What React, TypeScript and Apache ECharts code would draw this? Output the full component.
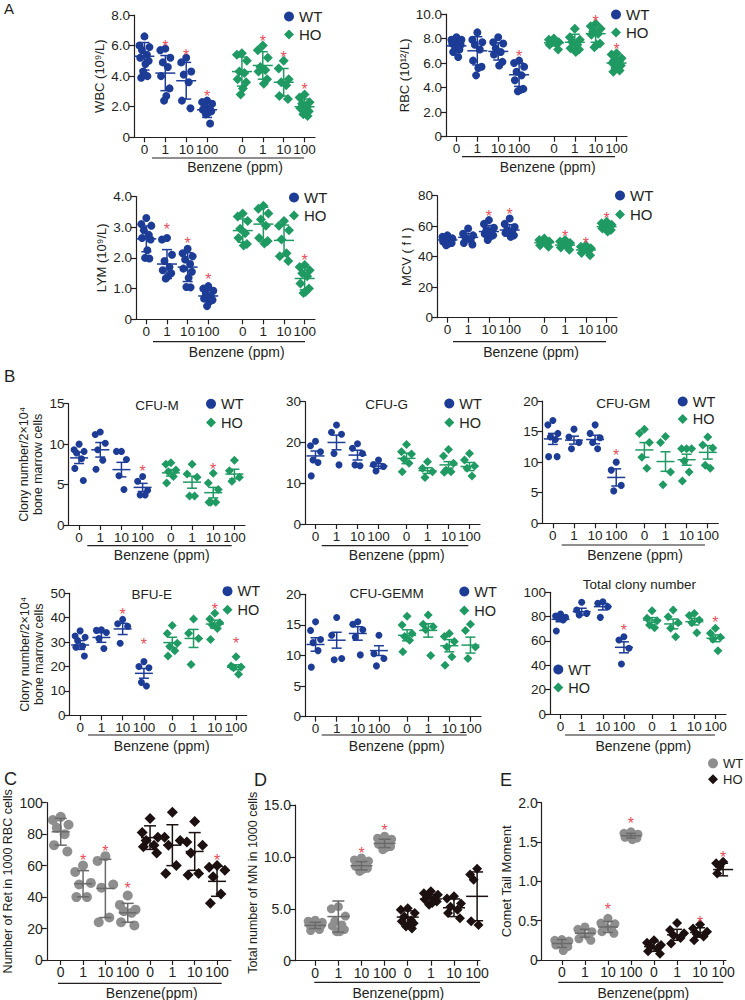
import React, { useEffect, useRef } from 'react';
import * as echarts from 'echarts';

const DOSES = ['0', '1', '10', '100'];
const INK = '#231f20';
const FONT = "'Liberation Sans', Arial, sans-serif";
const BLUE = '#1d3c96';
const GREEN = '#1f9a62';
const GRAY = '#8e8e8e';
const DARK = '#1c1010';
const STAR = '#e8505a';

// ---------- A: WBC ----------
const WBC_WT = [[6.6, 6.0, 5.9, 5.7, 5.4, 5.2, 5.0, 4.8, 4.3, 4.0, 3.9], [5.8, 5.7, 5.2, 4.9, 4.6, 4.0, 3.2, 2.7, 2.4], [5.2, 4.9, 4.3, 4.1, 3.6, 2.4, 1.9], [2.4, 2.3, 2.2, 2.0, 1.9, 1.8, 1.7, 1.6, 1.5, 0.9]];
const WBC_WT_MEAN = [5.3, 4.2, 3.7, 1.8];
const WBC_WT_ERR = [0.9, 1.15, 1.2, 0.5];
const WBC_HO = [[5.5, 5.4, 5.0, 4.3, 4.2, 3.8, 3.6, 3.2, 2.8], [6.0, 5.7, 5.2, 4.6, 4.4, 4.3, 3.8, 3.5], [5.0, 4.5, 3.8, 3.6, 3.4, 2.7, 2.5], [2.8, 2.6, 2.3, 2.2, 2.0, 1.9, 1.7, 1.6, 1.5, 1.4]];
const WBC_HO_MEAN = [4.3, 4.7, 3.6, 2.0];
const WBC_HO_ERR = [0.95, 0.9, 0.9, 0.5];
const WBC_STARS = [null, 6.2, 5.6, 2.9, null, 6.5, 5.5, 3.4];

// ---------- A: RBC ----------
const RBC_WT = [[8.1, 7.9, 7.9, 7.7, 7.7, 7.6, 7.5, 7.3, 7.2, 7.1, 6.9, 6.5], [8.5, 7.9, 7.7, 7.5, 7.1, 6.2, 5.7, 5.6, 5.0], [8.1, 7.7, 7.6, 7.2, 6.9, 6.7, 6.1, 5.8], [6.2, 6.0, 5.7, 5.3, 5.0, 4.6, 3.9, 3.8, 3.7]];
const RBC_WT_MEAN = [7.4, 7.0, 6.95, 5.05];
const RBC_WT_ERR = [0.45, 1.15, 0.7, 0.95];
const RBC_HO = [[8.0, 7.9, 7.7, 7.7, 7.6, 7.5, 7.1], [8.8, 8.1, 7.9, 7.7, 7.5, 7.2, 7.1, 6.9], [9.2, 9.0, 8.8, 8.6, 8.4, 8.3, 7.6, 7.5, 7.3], [6.8, 6.7, 6.4, 6.2, 6.1, 6.0, 5.8, 5.7, 5.6, 5.4, 5.3]];
const RBC_HO_MEAN = [7.65, 7.7, 8.4, 6.0];
const RBC_HO_ERR = [0.25, 0.65, 0.7, 0.45];
const RBC_STARS = [null, null, null, 6.85, null, null, 9.7, 7.4];

// ---------- A: LYM ----------
const LYM_WT = [[3.3, 3.1, 3.05, 2.9, 2.75, 2.65, 2.6, 2.25, 2.0, 1.98], [2.65, 2.6, 2.1, 1.9, 1.7, 1.6, 1.5, 1.4, 1.33], [2.3, 2.15, 2.05, 1.95, 1.8, 1.65, 1.55, 1.35, 1.05, 1.04], [1.08, 1.0, 0.93, 0.85, 0.75, 0.68, 0.63, 0.57, 0.43]];
const LYM_WT_MEAN = [2.62, 1.8, 1.7, 0.76];
const LYM_WT_ERR = [0.42, 0.47, 0.47, 0.18];
const LYM_HO = [[3.45, 3.35, 3.2, 2.95, 2.8, 2.65, 2.45, 2.4], [3.7, 3.6, 3.45, 3.25, 3.05, 2.65, 2.55, 2.47], [3.2, 3.05, 2.9, 2.6, 2.15, 2.05, 1.9], [1.77, 1.7, 1.6, 1.5, 1.4, 1.17, 1.0, 0.9, 0.86]];
const LYM_HO_MEAN = [2.89, 3.1, 2.57, 1.33];
const LYM_HO_ERR = [0.38, 0.55, 0.5, 0.37];
const LYM_STARS = [null, 3.05, 2.6, 1.42, null, null, null, 2.06];

// ---------- A: MCV ----------
const MCV_WT = [[54, 53, 52, 51.5, 51, 50, 49, 48.5, 47.5], [58.5, 55, 54, 52, 51, 49, 48], [64, 61.5, 59, 57.5, 56.5, 55, 54, 53, 51], [65, 61.5, 59.5, 57.5, 56.5, 55.5, 54, 53]];
const MCV_WT_MEAN = [51, 52.7, 56.5, 57.5];
const MCV_WT_ERR = [2, 2.5, 4, 3.5];
const MCV_HO = [[52, 51, 50, 49, 48.5, 47.5, 46.5], [51, 50, 49, 48, 47, 46, 44.5], [47.5, 46.5, 45.5, 44.5, 43.5, 42.5, 41], [63, 62, 61, 60, 59, 58.5, 57.5, 56.5]];
const MCV_HO_MEAN = [49.2, 47.6, 44.4, 59.7];
const MCV_HO_ERR = [1.5, 2, 2, 2];
const MCV_STARS = [null, null, 69, 70, null, 56, 51.5, 68];

// ---------- B: CFU-M ----------
const CFUM_WT = [[10.0, 9.3, 9.1, 8.9, 8.2, 7.0, 5.5], [11.5, 11.2, 10.1, 9.3, 8.0, 6.9], [9.1, 9.1, 8.1, 6.1, 4.4], [6.0, 5.4, 4.3, 3.7, 3.7]];
const CFUM_WT_MEAN = [8.3, 9.3, 6.85, 4.65];
const CFUM_WT_ERR = [0.7, 0.9, 0.9, 0.5];
const CFUM_HO = [[7.7, 7.5, 6.8, 6.6, 6.0, 5.2], [7.5, 6.3, 5.9, 3.6, 3.6], [6.4, 5.2, 4.4, 2.8, 2.8, 2.8], [8.0, 6.7, 5.9, 5.4]];
const CFUM_HO_MEAN = [6.45, 5.3, 4.0, 6.3];
const CFUM_HO_ERR = [0.4, 0.75, 0.65, 0.6];
const CFUM_STARS = [null, null, null, 7.1, null, null, 7.3, null];

// ---------- B: CFU-G ----------
const CFUG_WT = [[20.3, 19.2, 17.7, 15.7, 15.1, 11.8], [24.3, 22.5, 22.0, 17.3, 14.5], [19.7, 18.6, 17.3, 14.5, 14.3], [15.7, 14.6, 14.1, 13.0]];
const CFUG_WT_MEAN = [16.7, 20.0, 16.9, 14.2];
const CFUG_WT_ERR = [1.2, 1.8, 1.2, 0.6];
const CFUG_HO = [[19.5, 17.7, 17.2, 15.9, 14.9, 12.8], [15.3, 13.7, 12.8, 11.4], [18.3, 16.7, 14.9, 13.2, 12.8, 12.7], [17.3, 15.7, 14.2, 13.7, 11.8]];
const CFUG_HO_MEAN = [16.1, 13.1, 14.5, 14.1];
const CFUG_HO_ERR = [1.3, 0.7, 0.8, 1.0];
const CFUG_STARS = [null, null, null, null, null, null, null, null];

// ---------- B: CFU-GM ----------
const CFUGM_WT = [[16.8, 16.1, 14.7, 14.1, 13.7, 10.9, 10.9], [15.4, 14.1, 13.2, 12.2], [16.1, 14.7, 14.0, 13.2, 12.2], [10.0, 8.7, 6.2, 5.3]];
const CFUGM_WT_MEAN = [13.8, 13.6, 13.7, 7.5];
const CFUGM_WT_ERR = [0.9, 0.65, 0.7, 1.4];
const CFUGM_HO = [[15.4, 14.7, 13.2, 10.8, 9.0], [14.2, 13.2, 8.4, 6.3], [12.2, 12.2, 12.2, 10.2, 8.4, 6.9], [14.1, 12.8, 12.3, 9.5, 9.0]];
const CFUGM_HO_MEAN = [12.0, 10.1, 10.4, 11.6];
const CFUGM_HO_ERR = [1.2, 1.6, 0.9, 1.1];
const CFUGM_STARS = [null, null, null, 11.7, null, null, null, null];

// ---------- B: BFU-E ----------
const BFUE_WT = [[34.6, 32.5, 32.0, 30.6, 28.4, 27.9, 24.3], [35.0, 34.8, 33.9, 31.5, 27.4], [39.3, 37.5, 36.5, 29.5], [22.0, 20.0, 19.5, 13.5, 12.0]];
const BFUE_WT_MEAN = [28.8, 31.9, 35.4, 17.2];
const BFUE_WT_ERR = [1.8, 2.0, 2.3, 2.0];
const BFUE_HO = [[36.8, 33.5, 29.5, 28.2, 26.5, 24.3], [39.5, 33.6, 31.5, 20.8], [41.8, 39.5, 37.9, 37.0, 35.6, 31.1], [24.0, 20.2, 19.8, 19.5, 16.8]];
const BFUE_HO_MEAN = [29.8, 31.5, 37.4, 19.7];
const BFUE_HO_ERR = [2.2, 3.7, 1.6, 1.0];
const BFUE_STARS = [null, null, 42.9, 30.6, null, null, 45.2, 30.9];

// ---------- B: CFU-GEMM ----------
const GEMM_WT = [[15.5, 14.1, 12.6, 12.1, 10.8, 8.1], [16.2, 13.3, 9.5, 9.3], [15.5, 15.1, 14.2, 13.0, 10.1], [13.3, 10.3, 9.5, 8.3]];
const GEMM_WT_MEAN = [11.8, 12.5, 13.6, 10.8];
const GEMM_WT_ERR = [1.1, 1.3, 1.1, 0.8];
const GEMM_HO = [[16.4, 15.0, 13.6, 13.1, 12.5, 10.6], [16.6, 15.1, 14.7, 14.2, 10.0], [13.6, 13.1, 12.3, 11.4, 9.8, 8.4], [15.1, 14.1, 11.4, 9.5]];
const GEMM_HO_MEAN = [13.3, 14.1, 11.6, 11.7];
const GEMM_HO_ERR = [0.9, 1.1, 1.0, 1.3];
const GEMM_STARS = [null, null, null, null, null, null, null, null];

// ---------- B: Total clony number ----------
const TOTAL_WT = [[82.2, 80.5, 79.4, 78.6, 77.2, 68.2], [91.8, 85.5, 82.7, 81.3], [92.3, 90.9, 88.2, 79.4], [63.5, 60.8, 54.0, 41.1]];
const TOTAL_WT_MEAN = [77.8, 84.1, 88.2, 54.8];
const TOTAL_WT_ERR = [2.0, 2.8, 2.7, 4.5];
const TOTAL_HO = [[84.9, 78.6, 76.7, 73.1, 70.9], [85.5, 80.0, 75.0, 70.4, 63.5], [82.5, 81.0, 77.2, 75.0, 66.8], [70.4, 66.3, 63.0, 61.4, 52.0]];
const TOTAL_HO_MEAN = [77.2, 74.0, 75.9, 62.2];
const TOTAL_HO_ERR = [2.0, 4.0, 2.7, 2.8];
const TOTAL_STARS = [null, null, null, 71.8, null, null, null, 78.6];

// ---------- C: Ret ----------
const RET_WT = [[91, 89, 86, 84, 80, 73, 69], [60, 56, 49, 48, 40, 40], [66, 63, 48, 46, 27, 24], [41, 35, 32, 31, 30, 24, 22]];
const RET_WT_MEAN = [81.5, 48.5, 45.5, 30];
const RET_WT_ERR = [8.5, 8.3, 18.5, 6];
const RET_HO = [[90, 81, 78, 76, 73, 72, 68], [94, 78, 76, 73, 60, 55], [88, 75, 73, 68, 55, 54], [60, 59, 57, 53, 42, 36]];
const RET_HO_MEAN = [77.8, 73, 69, 50];
const RET_HO_ERR = [7.5, 13, 12, 9.5];
const RET_STARS = [null, 65.7, 71.6, 48.3, null, null, null, 66.1];

// ---------- D: MN ----------
const MN_WT = [[3.9, 3.8, 3.7, 3.6, 3.5, 3.5, 3.4, 3.3, 3.2, 3.0, 2.9], [5.2, 5.0, 4.3, 3.8, 3.45, 3.35, 3.0, 2.8, 2.8], [9.9, 9.7, 9.6, 9.4, 9.3, 9.1, 8.9, 8.8, 8.6], [12.0, 11.8, 11.7, 11.5, 11.4, 11.2, 11.0, 10.9, 10.7]];
const MN_WT_MEAN = [3.4, 4.25, 9.15, 11.3];
const MN_WT_ERR = [0.3, 1.5, 0.4, 0.4];
const MN_HO = [[5.05, 4.9, 4.6, 4.25, 3.9, 3.8, 3.6, 3.45, 3.3, 3.1], [6.7, 6.5, 6.35, 6.2, 6.0, 5.9, 5.7, 5.55, 5.4], [6.2, 6.0, 5.5, 5.2, 4.9, 4.6, 4.1], [8.85, 8.3, 8.0, 7.8, 7.5, 3.8, 3.45, 3.45]];
const MN_HO_MEAN = [4.2, 5.95, 5.1, 6.2];
const MN_HO_ERR = [0.6, 0.4, 0.85, 2.35];
const MN_STARS = [null, null, 10.7, 12.9, null, null, null, null];

// ---------- E: Comet ----------
const TAIL_WT = [[0.26, 0.25, 0.24, 0.22, 0.2, 0.19, 0.17, 0.12], [0.42, 0.39, 0.36, 0.34, 0.3, 0.27, 0.25], [0.53, 0.47, 0.46, 0.42, 0.4, 0.36, 0.34], [1.63, 1.61, 1.6, 1.59, 1.57, 1.56, 1.55, 1.53]];
const TAIL_WT_MEAN = [0.21, 0.34, 0.42, 1.58];
const TAIL_WT_ERR = [0.05, 0.05, 0.07, 0.03];
const TAIL_HO = [[0.25, 0.22, 0.19, 0.17, 0.15, 0.11, 0.08], [0.47, 0.38, 0.34, 0.31, 0.28, 0.21], [0.45, 0.4, 0.36, 0.33, 0.3, 0.25], [1.25, 1.23, 1.21, 1.19, 1.14, 1.1, 0.98]];
const TAIL_HO_MEAN = [0.17, 0.32, 0.35, 1.15];
const TAIL_HO_ERR = [0.06, 0.07, 0.06, 0.08];
const TAIL_STARS = [null, null, 0.69, 1.79, null, null, 0.53, 1.36];

const JITTER = [0, -1, 1, -0.5, 0.5, -0.85, 0.85, 0.2, -0.25, 0.6, -0.65, 0.35];

type Panel = {
  box: [number, number, number, number];
  yMax: number; yInt: number; yDec: number;
  yName?: string; nameGap?: number; nameSize?: number;
  n: number; slots: number[];
  wt: number[][]; ho: number[][];
  wtMean: number[]; wtErr: number[]; hoMean: number[]; hoErr: number[];
  stars: (number | null)[];
  cWT: string; cHO: string; bWT: string; bHO: string;
  sWT: number; sHO: number; spread: number; mh: number; ch: number;
  tick: number; legendSize: number;
  legend?: [number, number, number];
  title?: [string, number, number];
  line: [number, number, number];
  benz: [string, number, number];
};

const SL_A = [1, 4, 7, 10, 15, 18, 21, 24];
const SL_B = [1, 4, 7, 10, 14, 17, 20, 23];
const SL_C = [2, 6, 10, 14, 18, 22, 26, 30];
const SL_D = [3, 7, 11, 15, 19, 23, 27, 31];

const BTITLE = 'Clony number/2×10⁴\nbone marrow cells';

function buildPanels(): Panel[] {
  const A = { n: 26, slots: SL_A, cWT: BLUE, cHO: GREEN, bWT: BLUE, bHO: GREEN, sWT: 8, sHO: 10, spread: 5, mh: 10, ch: 5, tick: 13.5, legendSize: 15, yDec: 1, nameSize: 13 };
  const B = { n: 25, slots: SL_B, cWT: BLUE, cHO: GREEN, bWT: BLUE, bHO: GREEN, sWT: 7, sHO: 9, spread: 5, mh: 9, ch: 5, tick: 13.5, legendSize: 14.5, yDec: 0, nameSize: 12.5 };
  const G = { cWT: GRAY, cHO: DARK, bWT: '#6a6a6a', bHO: DARK, tick: 14, legendSize: 14 };
  return [
    { ...A, box: [134, 15, 315, 137.3], yMax: 8, yInt: 2, yName: 'WBC (10⁹/L)', nameGap: 25, wt: WBC_WT, ho: WBC_HO, wtMean: WBC_WT_MEAN, wtErr: WBC_WT_ERR, hoMean: WBC_HO_MEAN, hoErr: WBC_HO_ERR, stars: WBC_STARS, legend: [289, 16, 17], line: [152, 304, 158], benz: ['Benzene (ppm)', 235, 167] },
    { ...A, box: [446, 14, 627, 136.7], yMax: 10, yInt: 2, yName: 'RBC (10¹²/L)', nameGap: 29, wt: RBC_WT, ho: RBC_HO, wtMean: RBC_WT_MEAN, wtErr: RBC_WT_ERR, hoMean: RBC_HO_MEAN, hoErr: RBC_HO_ERR, stars: RBC_STARS, legend: [616, 14, 17], line: [462, 615, 156.7], benz: ['Benzene (ppm)', 547.7, 166.7] },
    { ...A, box: [136, 196.5, 315, 319.3], yMax: 4, yInt: 1, yName: 'LYM (10⁹/L)', nameGap: 27, wt: LYM_WT, ho: LYM_HO, wtMean: LYM_WT_MEAN, wtErr: LYM_WT_ERR, hoMean: LYM_HO_MEAN, hoErr: LYM_HO_ERR, stars: LYM_STARS, legend: [294, 197, 17], line: [153, 305, 341.7], benz: ['Benzene (ppm)', 236.7, 351.7] },
    { ...A, yDec: 0, box: [437, 195.7, 617, 317.7], yMax: 80, yInt: 20, yName: 'MCV ( f l )', nameGap: 23, wt: MCV_WT, ho: MCV_HO, wtMean: MCV_WT_MEAN, wtErr: MCV_WT_ERR, hoMean: MCV_HO_MEAN, hoErr: MCV_HO_ERR, stars: MCV_STARS, legend: [620, 195, 18], line: [453, 606, 341.7], benz: ['Benzene (ppm)', 531, 351.7] },

    { ...B, box: [68.5, 403.7, 245, 525], yMax: 15, yInt: 5, yName: BTITLE, nameGap: 18, wt: CFUM_WT, ho: CFUM_HO, wtMean: CFUM_WT_MEAN, wtErr: CFUM_WT_ERR, hoMean: CFUM_HO_MEAN, hoErr: CFUM_HO_ERR, stars: CFUM_STARS, legend: [211, 403.3, 17.7], title: ['CFU-M', 157, 405], line: [87.3, 231.7, 545.7], benz: ['Benzene (ppm)', 161.7, 555] },
    { ...B, box: [305, 401.7, 480, 524], yMax: 30, yInt: 10, wt: CFUG_WT, ho: CFUG_HO, wtMean: CFUG_WT_MEAN, wtErr: CFUG_WT_ERR, hoMean: CFUG_HO_MEAN, hoErr: CFUG_HO_ERR, stars: CFUG_STARS, legend: [449.3, 403, 18], title: ['CFU-G', 386.7, 404], line: [321.7, 468.3, 545.7], benz: ['Benzene (ppm)', 396.7, 555] },
    { ...B, box: [542.3, 401, 718.3, 523.3], yMax: 20, yInt: 5, wt: CFUGM_WT, ho: CFUGM_HO, wtMean: CFUGM_WT_MEAN, wtErr: CFUGM_WT_ERR, hoMean: CFUGM_HO_MEAN, hoErr: CFUGM_HO_ERR, stars: CFUGM_STARS, legend: [682.7, 401, 16.5], title: ['CFU-GM', 623.3, 403], line: [561.7, 705, 545], benz: ['Benzene (ppm)', 635, 555] },
    { ...B, box: [69.5, 593.3, 246.7, 715.3], yMax: 50, yInt: 10, yName: BTITLE, nameGap: 18, wt: BFUE_WT, ho: BFUE_HO, wtMean: BFUE_WT_MEAN, wtErr: BFUE_WT_ERR, hoMean: BFUE_HO_MEAN, hoErr: BFUE_HO_ERR, stars: BFUE_STARS, legend: [227.5, 590.7, 17.6], title: ['BFU-E', 151.7, 594.3], line: [88, 233, 735], benz: ['Benzene (ppm)', 161.7, 745.5] },
    { ...B, box: [305, 594.3, 481, 716.7], yMax: 20, yInt: 5, wt: GEMM_WT, ho: GEMM_HO, wtMean: GEMM_WT_MEAN, wtErr: GEMM_WT_ERR, hoMean: GEMM_HO_MEAN, hoErr: GEMM_HO_ERR, stars: GEMM_STARS, legend: [464.3, 591, 18], title: ['CFU-GEMM', 386.7, 593.3], line: [321.7, 466.7, 735], benz: ['Benzene (ppm)', 396.7, 745.5] },
    { ...B, box: [550, 592.3, 726, 714], yMax: 100, yInt: 20, wt: TOTAL_WT, ho: TOTAL_HO, wtMean: TOTAL_WT_MEAN, wtErr: TOTAL_WT_ERR, hoMean: TOTAL_HO_MEAN, hoErr: TOTAL_HO_ERR, stars: TOTAL_STARS, legend: [558.3, 669, 17], title: ['Total clony number', 639.3, 584.3], line: [565, 715, 735], benz: ['Benzene (ppm)', 643.3, 745.5] },

    { ...G, box: [42.7, 802.7, 231, 960], yMax: 100, yInt: 20, yDec: 0, yName: 'Number of Ret in 1000 RBC cells', nameGap: 28, nameSize: 12.5, n: 33, slots: SL_C, sWT: 10, sHO: 11, spread: 8, mh: 9, ch: 6, wt: RET_WT, ho: RET_HO, wtMean: RET_WT_MEAN, wtErr: RET_WT_ERR, hoMean: RET_HO_MEAN, hoErr: RET_HO_ERR, stars: RET_STARS, line: [58, 221.7, 983.3], benz: ['Benzene(ppm)', 151.7, 993] },
    { ...G, box: [295, 805, 480, 960.7], yMax: 15, yInt: 5, yDec: 1, yName: 'Total number of MN in 1000 cells', nameGap: 30, nameSize: 12.5, n: 32, slots: SL_D, sWT: 9, sHO: 10, spread: 7, mh: 11, ch: 6, wt: MN_WT, ho: MN_HO, wtMean: MN_WT_MEAN, wtErr: MN_WT_ERR, hoMean: MN_HO_MEAN, hoErr: MN_HO_ERR, stars: MN_STARS, line: [314.3, 480, 982.3], benz: ['Benzene(ppm)', 398.3, 993] },
    { ...G, legendSize: 13, box: [541.7, 802.7, 726, 960], yMax: 2, yInt: 0.5, yDec: 1, yName: 'Comet Tail Moment', nameGap: 22, nameSize: 13, n: 32, slots: SL_D, sWT: 9, sHO: 10, spread: 7, mh: 10, ch: 5, wt: TAIL_WT, ho: TAIL_HO, wtMean: TAIL_WT_MEAN, wtErr: TAIL_WT_ERR, hoMean: TAIL_HO_MEAN, hoErr: TAIL_HO_ERR, stars: TAIL_STARS, legend: [713, 763.3, 16], line: [558.3, 723.3, 982.3], benz: ['Benzene(ppm)', 643.3, 993] },
  ] as Panel[];
}

function jitterPoints(groups: number[][], slots: number[], offset: number, spreadUnits: number) {
  const out: number[][] = [];
  groups.forEach((vals, g) => {
    const order = vals.map((v, i) => [v, i]).sort((a, b) => b[0] - a[0]);
    order.forEach(([v], r) => {
      out.push([slots[g + offset] + 0.5 + JITTER[r % JITTER.length] * spreadUnits, v]);
    });
  });
  return out;
}

function errorSeries(p: Panel, i: number, means: number[], errs: number[], offset: number, color: string) {
  const data = means.map((m, g) => [p.slots[g + offset] + 0.5, m, m - errs[g], m + errs[g]]);
  return {
    type: 'custom', xAxisIndex: 2 * i + 1, yAxisIndex: i, z: 5, silent: true,
    encode: { x: 0, y: 1 },
    data,
    renderItem: (_params: any, api: any) => {
      const x = api.value(0);
      const pm = api.coord([x, api.value(1)]);
      const pl = api.coord([x, api.value(2)]);
      const ph = api.coord([x, api.value(3)]);
      const st = { stroke: color, lineWidth: 1.5 };
      return {
        type: 'group',
        children: [
          { type: 'line', shape: { x1: pm[0] - p.mh, y1: pm[1], x2: pm[0] + p.mh, y2: pm[1] }, style: st },
          { type: 'line', shape: { x1: pm[0], y1: ph[1], x2: pm[0], y2: pl[1] }, style: st },
          { type: 'line', shape: { x1: pm[0] - p.ch, y1: pl[1], x2: pm[0] + p.ch, y2: pl[1] }, style: st },
          { type: 'line', shape: { x1: pm[0] - p.ch, y1: ph[1], x2: pm[0] + p.ch, y2: ph[1] }, style: st },
        ],
      };
    },
  };
}

function buildOption() {
  const panels = buildPanels();
  const grid: any[] = [];
  const xAxis: any[] = [];
  const yAxis: any[] = [];
  const series: any[] = [];
  const legend: any[] = [];
  const graphic: any[] = [];
  const axisLine = { show: true, lineStyle: { color: INK, width: 1.2 } };

  panels.forEach((p, i) => {
    const [l, t, r, b] = p.box;
    grid.push({ left: l, top: t, width: r - l, height: b - t });
    const labels = Array.from({ length: p.n }, () => '');
    p.slots.forEach((s, k) => { labels[s] = DOSES[k % 4]; });
    const slotSet = new Set(p.slots);
    const show = (idx: number) => slotSet.has(idx);
    xAxis.push({
      type: 'category', gridIndex: i, data: labels, boundaryGap: true,
      axisLine, splitLine: { show: false },
      axisTick: { show: true, alignWithLabel: true, interval: show, length: 5, lineStyle: { color: INK, width: 1.2 } },
      axisLabel: { interval: show, fontSize: p.tick, color: INK, margin: 5, fontFamily: FONT },
    });
    xAxis.push({ type: 'value', gridIndex: i, min: 0, max: p.n, show: false });
    yAxis.push({
      type: 'value', gridIndex: i, min: 0, max: p.yMax, interval: p.yInt,
      name: p.yName || '', nameLocation: 'middle', nameRotate: 90, nameGap: p.nameGap || 20,
      nameTextStyle: { fontSize: p.nameSize || 12, color: INK, fontFamily: FONT, lineHeight: (p.nameSize || 12) + 2 },
      axisLine, splitLine: { show: false },
      axisTick: { show: true, length: 5, lineStyle: { color: INK, width: 1.2 } },
      axisLabel: { fontSize: p.tick, color: INK, margin: 4, fontFamily: FONT, formatter: (v: number) => (v === 0 ? '0' : v.toFixed(p.yDec)) },
    });
    const w = (r - l) / p.n;
    const su = p.spread / w;
    series.push({ type: 'scatter', name: 'WT', xAxisIndex: 2 * i + 1, yAxisIndex: i, symbol: 'circle', symbolSize: p.sWT, itemStyle: { color: p.cWT, opacity: 1 }, z: 3, silent: true, data: jitterPoints(p.wt, p.slots, 0, su) });
    series.push({ type: 'scatter', name: 'HO', xAxisIndex: 2 * i + 1, yAxisIndex: i, symbol: 'diamond', symbolSize: p.sHO, itemStyle: { color: p.cHO, opacity: 1 }, z: 3, silent: true, data: jitterPoints(p.ho, p.slots, 4, su) });
    series.push(errorSeries(p, i, p.wtMean, p.wtErr, 0, p.bWT));
    series.push(errorSeries(p, i, p.hoMean, p.hoErr, 4, p.bHO));
    const starData: number[][] = [];
    p.stars.forEach((s, k) => { if (s != null) starData.push([p.slots[k] + 0.5, s]); });
    series.push({
      type: 'custom', xAxisIndex: 2 * i + 1, yAxisIndex: i, z: 6, silent: true, encode: { x: 0, y: 1 }, data: starData,
      renderItem: (_params: any, api: any) => {
        const c = api.coord([api.value(0), api.value(1)]);
        return { type: 'text', x: c[0], y: c[1] + 4, style: { text: '*', fill: STAR, fontSize: 16, fontFamily: FONT, align: 'center', verticalAlign: 'middle' } };
      },
    });
    if (p.legend) {
      const [lx, ly, dy] = p.legend;
      legend.push({
        orient: 'vertical', left: lx - 5, top: ly - 7, itemWidth: 10, itemHeight: 10, itemGap: dy - 14, padding: 0,
        selectedMode: false,
        textStyle: { fontSize: p.legendSize, color: INK, fontFamily: FONT, lineHeight: 14 },
        data: [
          { name: 'WT', icon: 'circle', itemStyle: { color: p.cWT } },
          { name: 'HO', icon: 'diamond', itemStyle: { color: p.cHO } },
        ],
      });
    }
    if (p.title) {
      graphic.push({ type: 'text', x: p.title[1], y: p.title[2], style: { text: p.title[0], fontSize: 13.5, fill: INK, fontFamily: FONT, align: 'center', verticalAlign: 'middle' } });
    }
    graphic.push({ type: 'line', shape: { x1: p.line[0], y1: p.line[2], x2: p.line[1], y2: p.line[2] }, style: { stroke: INK, lineWidth: 1.2 } });
    graphic.push({ type: 'text', x: p.benz[1], y: p.benz[2], style: { text: p.benz[0], fontSize: 14, fill: INK, fontFamily: FONT, align: 'center', verticalAlign: 'middle' } });
  });

  const letters: [string, number, number, number][] = [['A', 4, 8, 15], ['B', 4, 376, 17], ['C', 4, 779, 18], ['D', 254, 780, 18], ['E', 500, 780, 18]];
  letters.forEach(([txt, x, y, fs]) => {
    graphic.push({ type: 'text', x, y, style: { text: txt, fontSize: fs, fill: INK, fontFamily: FONT, align: 'left', verticalAlign: 'middle' } });
  });

  return { animation: false, backgroundColor: '#ffffff', grid, xAxis, yAxis, series, legend, graphic };
}

export default function App() {
  const ref = useRef<HTMLDivElement>(null);
  useEffect(() => {
    if (!ref.current) return;
    const chart = echarts.init(ref.current, undefined, { renderer: 'svg' });
    chart.setOption(buildOption() as any);
    return () => chart.dispose();
  }, []);
  return <div ref={ref} style={{ position: 'absolute', left: 0, top: 0, width: 745, height: 1000 }} />;
}
